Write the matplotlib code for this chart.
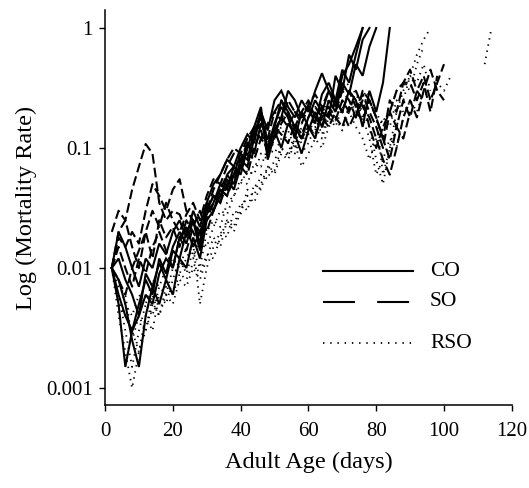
import numpy as np
import matplotlib
matplotlib.use("Agg")
import matplotlib.pyplot as plt

plt.rcParams['font.family'] = ['Liberation Serif', 'DejaVu Serif']
plt.rcParams['lines.scale_dashes'] = False

AGES = list(range(2, 116, 2))
NA = np.nan

CO = [
    [0.010, 0.006, 0.004, 0.003, 0.005, 0.008, 0.006, 0.012, 0.009, 0.015, 0.020, 0.016, 0.025, 0.014,
     0.030, 0.040, 0.035, 0.060, 0.050, 0.080, 0.070, 0.120, 0.200, 0.090, 0.150, 0.250, 0.200, 0.150,
     0.120, 0.180, 0.250, 0.200, 0.300, 0.250, 0.450, 0.350, 0.600, 1.0],
    [0.010, 0.005, 0.0015, 0.003, 0.004, 0.006, 0.005, 0.009, 0.012, 0.010, 0.018, 0.022, 0.015, 0.020,
     0.028, 0.035, 0.050, 0.045, 0.070, 0.060, 0.100, 0.150, 0.220, 0.080, 0.130, 0.180, 0.300, 0.250,
     0.180, 0.220, 0.160, 0.280, 0.350, 0.250, 0.200, 0.300, 0.250, 0.150, 0.300, 0.200, 0.350, 1.0],
    [0.010, 0.008, 0.005, 0.0025, 0.0015, 0.004, 0.007, 0.005, 0.008, 0.006, 0.012, 0.010, 0.018, 0.012,
     0.025, 0.030, 0.045, 0.040, 0.060, 0.090, 0.080, 0.140, 0.180, 0.100, 0.160, 0.220, 0.180, 0.120,
     0.200, 0.150, 0.120, 0.200, 0.180, 0.400, 0.300, 0.600, 0.450, 0.800, 1.0],
    [0.010, 0.012, 0.008, 0.006, 0.004, 0.009, 0.007, 0.011, 0.008, 0.014, 0.012, 0.020, 0.025, 0.016,
     0.035, 0.030, 0.040, 0.055, 0.045, 0.070, 0.110, 0.090, 0.160, 0.120, 0.140, 0.100, 0.160, 0.130,
     0.090, 0.140, 0.200, 0.150, 0.250, 0.200, 0.350, 0.280, 0.500, 0.400, 0.700, 1.0],
    [0.010, 0.020, 0.015, 0.010, 0.007, 0.012, 0.010, 0.016, 0.013, 0.020, 0.025, 0.018, 0.030, 0.022,
     0.035, 0.050, 0.060, 0.080, 0.070, 0.100, 0.130, 0.110, 0.200, 0.140, 0.250, 0.300, 0.220, 0.180,
     0.250, 0.200, 0.300, 0.420, 0.300, 0.220, 0.400, 0.500, 0.700, 1.0],
]

SO = [
    [0.020, 0.030, 0.025, 0.045, 0.070, 0.108, 0.090, 0.035, 0.025, 0.030, 0.028, 0.020, 0.025, 0.018,
     0.030, 0.045, 0.060, 0.080, 0.100, 0.090, 0.120, 0.150, 0.180, 0.120, 0.200, 0.250, 0.180, 0.150,
     0.200, 0.250, 0.180, 0.220, 0.300, 0.250, 0.200, 0.300, 0.220, 0.280, 0.200, 0.150, 0.100, 0.200,
     0.150, 0.250, 0.180, 0.300, 0.400, 0.250, 0.350, 0.500],
    [0.010, 0.018, 0.015, 0.020, 0.016, 0.030, 0.050, 0.040, 0.030, 0.045, 0.055, 0.030, 0.025, 0.020,
     0.025, 0.035, 0.045, 0.060, 0.070, 0.080, 0.100, 0.130, 0.160, 0.110, 0.140, 0.180, 0.150, 0.200,
     0.160, 0.220, 0.180, 0.150, 0.200, 0.170, 0.250, 0.200, 0.300, 0.220, 0.180, 0.120, 0.080, 0.060,
     0.100, 0.180, 0.250, 0.180, 0.300, 0.450, 0.300, 0.250],
    [0.010, 0.008, 0.006, 0.010, 0.014, 0.020, 0.012, 0.025, 0.018, 0.022, 0.015, 0.025, 0.020, 0.015,
     0.030, 0.040, 0.035, 0.050, 0.060, 0.070, 0.090, 0.080, 0.120, 0.100, 0.150, 0.130, 0.110, 0.160,
     0.130, 0.180, 0.220, 0.180, 0.150, 0.200, 0.300, 0.250, 0.180, 0.300, 0.250, 0.180, 0.120, 0.250,
     0.200, 0.350, 0.450, 0.300, 0.250],
    [0.010, 0.015, 0.010, 0.007, 0.012, 0.009, 0.015, 0.020, 0.014, 0.010, 0.018, 0.014, 0.022, 0.030,
     0.020, 0.030, 0.045, 0.040, 0.055, 0.070, 0.060, 0.100, 0.140, 0.090, 0.120, 0.160, 0.200, 0.140,
     0.120, 0.150, 0.130, 0.180, 0.220, 0.180, 0.150, 0.220, 0.180, 0.250, 0.150, 0.100, 0.150, 0.200,
     0.300, 0.350, 0.350, 0.250, 0.350, 0.200, 0.400],
    [0.010, 0.020, 0.025, 0.015, 0.010, 0.020, 0.030, 0.022, 0.035, 0.025, 0.020, 0.028, 0.035, 0.025,
     0.040, 0.055, 0.050, 0.070, 0.090, 0.080, 0.110, 0.140, 0.120, 0.160, 0.200, 0.170, 0.250, 0.200,
     0.180, 0.230, 0.280, 0.220, 0.180, 0.250, 0.200, 0.150, 0.200, 0.170, 0.250, 0.180, 0.120, 0.080,
     0.150, 0.120, 0.200],
]

RSO = [
    [0.010, 0.004, 0.002, 0.001, 0.002, 0.003, 0.005, 0.004, 0.006, 0.005, 0.008, 0.007, 0.010, 0.008,
     0.012, 0.018, 0.015, 0.025, 0.022, 0.035, 0.030, 0.050, 0.045, 0.070, 0.060, 0.090, 0.080, 0.110,
     0.070, 0.090, 0.120, 0.100, 0.150, 0.180, 0.140, 0.200, 0.250, 0.200, 0.150, 0.080, 0.050, 0.100,
     0.200, 0.300, 0.400, 0.600, 0.800, 1.0],
    [0.010, 0.006, 0.003, 0.0015, 0.003, 0.005, 0.004, 0.007, 0.006, 0.010, 0.009, 0.012, 0.016, 0.005,
     0.010, 0.015, 0.020, 0.018, 0.030, 0.028, 0.045, 0.040, 0.060, 0.055, 0.080, 0.100, 0.090, 0.130,
     0.110, 0.150, 0.180, 0.130, 0.200, 0.250, 0.200, 0.300, 0.250, 0.180, 0.120, 0.060, 0.080, 0.120,
     0.100, 0.180, 0.250, 0.200, 0.300, 0.250, 0.350, 0.300, 0.400, NA, NA, NA, NA, 0.500, 1.0],
    [0.010, 0.005, 0.004, 0.003, 0.002, 0.004, 0.003, 0.006, 0.005, 0.008, 0.012, 0.009, 0.014, 0.010,
     0.020, 0.025, 0.022, 0.035, 0.040, 0.050, 0.065, 0.060, 0.090, 0.080, 0.120, 0.150, 0.110, 0.090,
     0.130, 0.160, 0.140, 0.200, 0.250, 0.200, 0.300, 0.250, 0.200, 0.300, 0.250, 0.180, 0.060, 0.100,
     0.150, 0.250, 0.400, 0.350, 0.500, 0.300],
    [0.010, 0.008, 0.005, 0.004, 0.006, 0.005, 0.008, 0.007, 0.010, 0.012, 0.010, 0.015, 0.012, 0.018,
     0.015, 0.022, 0.030, 0.028, 0.040, 0.055, 0.050, 0.075, 0.070, 0.100, 0.090, 0.120, 0.140, 0.100,
     0.150, 0.130, 0.180, 0.220, 0.180, 0.250, 0.300, 0.350, 0.280, 0.220, 0.300, 0.200, 0.150, 0.200,
     0.300, 0.350, 0.300, 0.500, 0.700],
    [0.010, 0.007, 0.006, 0.0025, 0.004, 0.003, 0.006, 0.004, 0.007, 0.006, 0.009, 0.008, 0.011, 0.009,
     0.013, 0.012, 0.018, 0.025, 0.020, 0.030, 0.040, 0.035, 0.050, 0.070, 0.065, 0.100, 0.085, 0.120,
     0.090, 0.110, 0.150, 0.120, 0.180, 0.150, 0.220, 0.200, 0.150, 0.120, 0.080, 0.120, 0.180, 0.150,
     0.250, 0.200],
]

GROUPS = ["CO", "SO", "RSO"]
XTICKS = [0, 20, 40, 60, 80, 100, 120]
YTICKS = [0.001, 0.01, 0.1, 1]
YTICKLABELS = ["0.001", "0.01", "0.1", "1"]

styles = {
    "CO": dict(linestyle='-', lw=1.5),
    "SO": dict(linestyle=(0, (7, 3)), lw=1.5),
    "RSO": dict(linestyle=(0, (1, 3.5)), lw=1.3),
}
legend_styles = {
    "CO": dict(linestyle='-', lw=1.5),
    "SO": dict(linestyle=(0, (23, 16)), lw=1.5),
    "RSO": dict(linestyle=(0, (1, 4.2)), lw=1.3),
}

fig = plt.figure(figsize=(5.29, 4.88), dpi=100)
ax = fig.add_axes([0.1985, 0.170, 0.769, 0.8095])

for name, data in zip(GROUPS, [CO, SO, RSO]):
    for series in data:
        ax.plot(AGES[:len(series)], series, color='black', clip_on=False,
                solid_joinstyle='miter', **styles[name])

ax.set_yscale('log')
ax.set_xlim(0, 120)
ax.set_ylim(0.000722, 1.413)
ax.set_xticks(XTICKS)
ax.set_xticklabels([str(t) for t in XTICKS])
ax.set_yticks(YTICKS)
ax.set_yticklabels(YTICKLABELS)
ax.yaxis.set_minor_locator(matplotlib.ticker.NullLocator())
ax.tick_params(axis='both', direction='out', length=4, width=1, labelsize=15)
ax.tick_params(axis='x', pad=8)
ax.tick_params(axis='y', pad=5)
ax.spines['top'].set_visible(False)
ax.spines['right'].set_visible(False)
ax.spines['left'].set_linewidth(1.1)
ax.spines['bottom'].set_linewidth(1.1)
ax.set_xlabel("Adult Age (days)", fontsize=17.5, labelpad=8)
ax.set_ylabel("Log (Mortality Rate)", fontsize=17.5, labelpad=6)

leg_y = [0.339, 0.261, 0.157]
for name, yy in zip(GROUPS, leg_y):
    ax.plot([0.536, 0.757], [yy, yy], transform=ax.transAxes, color='black', **legend_styles[name])
    ax.text(0.799, yy, name, transform=ax.transAxes, fontsize=15.5, va='center', ha='left')

fig.savefig("out.png", dpi=100)
